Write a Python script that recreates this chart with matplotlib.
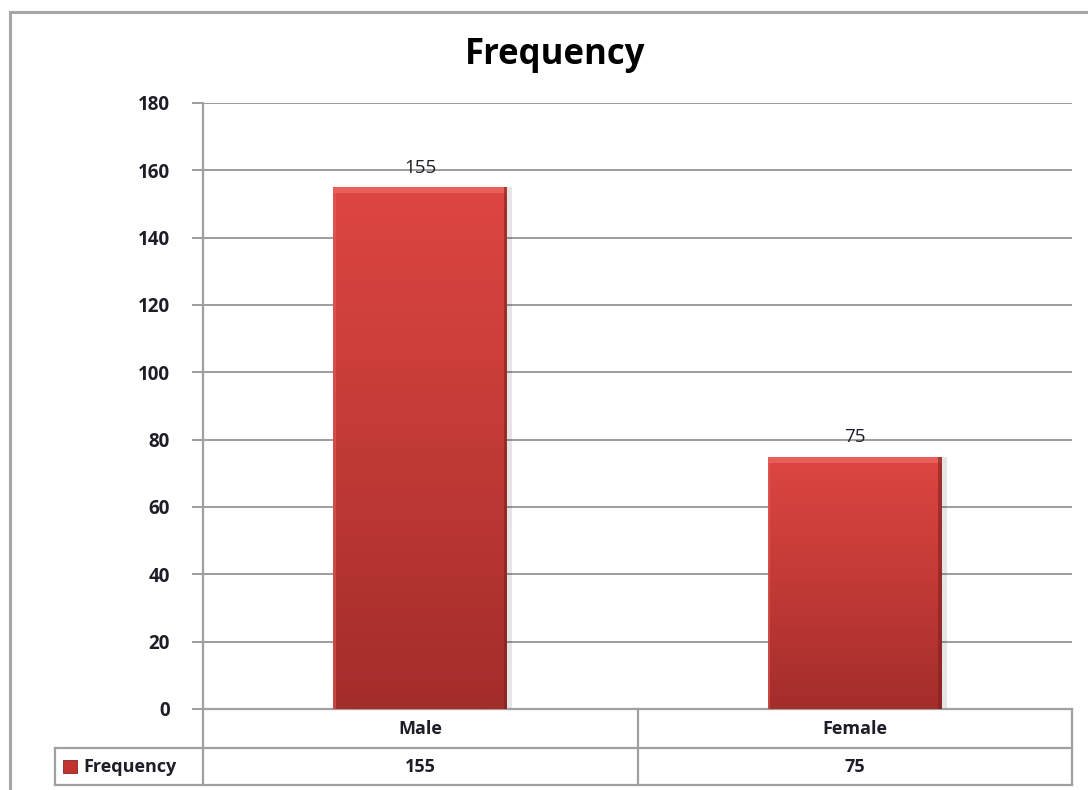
import numpy as np
import matplotlib
matplotlib.use("Agg")
import matplotlib.pyplot as plt
from matplotlib.colors import LinearSegmentedColormap
from matplotlib.patches import Rectangle

categories = ["Male", "Female"]
values = [155, 75]
series_name = "Frequency"
yticks = [0, 20, 40, 60, 80, 100, 120, 140, 160, 180]

plt.rcParams["font.family"] = ["Open Sans", "DejaVu Sans"]
text_color = "#1e1e28"
grid_color = "#8c8c8c"

fig = plt.figure(figsize=(10.88, 7.90), dpi=100)
fig.patch.set_facecolor("white")

# outer chart frame
fig.add_artist(Rectangle((10 / 1088, -0.05), 1.2, 1 - 12 / 790 + 0.05,
                         transform=fig.transFigure, fill=False,
                         edgecolor="#a6a6a6", lw=2.2))

ax = fig.add_axes([203 / 1088, 1 - 709 / 790, 869 / 1088, 606 / 790])
ax.set_xlim(-0.5, len(categories) - 0.5)
ax.set_ylim(0, 180)
for s in ax.spines.values():
    s.set_visible(False)

ax.set_yticks(yticks)
ax.set_yticklabels([str(t) for t in yticks], fontsize=13.5, fontweight="bold",
                   color=text_color)
ax.tick_params(axis="y", length=8, width=1.2, color=grid_color, pad=16)
ax.set_xticks([])
ax.yaxis.grid(True, color=grid_color, lw=1.2)
ax.set_axisbelow(True)

# bars with a vertical red gradient
cmap = LinearSegmentedColormap.from_list("redgrad", ["#a32d2b", "#c23a36", "#dd4642"])
bar_w = 0.4
grad = np.linspace(0, 1, 256).reshape(-1, 1)
for i, v in enumerate(values):
    x0 = i - bar_w / 2
    # soft shadow on the right
    ax.add_patch(Rectangle((x0 + 0.012, 0), bar_w, v, facecolor="#000000",
                           alpha=0.10, lw=0, zorder=2))
    im = ax.imshow(grad, cmap=cmap, origin="lower", aspect="auto",
                   extent=[x0, x0 + bar_w, 0, v], zorder=3)
    clip = Rectangle((x0, 0), bar_w, v, transform=ax.transData, facecolor="none")
    im.set_clip_path(clip)
    # bevel highlights
    ax.add_patch(Rectangle((x0, v - 1.8), bar_w, 1.8, facecolor="#ee6a64",
                           lw=0, zorder=4, alpha=0.7))
    ax.add_patch(Rectangle((x0 + bar_w - 0.008, 0), 0.008, v, facecolor="#7e2220",
                           lw=0, zorder=4, alpha=0.6))
    ax.add_patch(Rectangle((x0, 0), 0.005, v, facecolor="#e8605a",
                           lw=0, zorder=4, alpha=0.5))
    ax.text(i, v + 3, str(v), ha="center", va="bottom", fontsize=13.5,
            color=text_color, zorder=5)

ax.set_xlim(-0.5, len(categories) - 0.5)
ax.set_ylim(0, 180)

fig.suptitle(series_name, x=555 / 1088, y=1 - 55 / 790, va="center",
             fontsize=25, fontweight="bold", color="#000000")

# data table beneath the plot
r1 = -39 / 606
r2 = -76 / 606
legend_left = -148 / 869
lk = dict(color="#a0a0a0", lw=1.6, clip_on=False, transform=ax.transAxes)
ax.plot([0, 0], [1, r2], **lk)
ax.plot([1, 1], [0, r2], **lk)
ax.plot([0.5, 0.5], [0, r2], **lk)
ax.plot([0, 1], [0, 0], **lk)
ax.plot([legend_left, 1], [r1, r1], **lk)
ax.plot([legend_left, 1], [r2, r2], **lk)
ax.plot([legend_left, legend_left], [r1, r2], **lk)

for i, (c, v) in enumerate(zip(categories, values)):
    xc = (i + 0.5) / len(categories)
    ax.text(xc, r1 / 2, c, transform=ax.transAxes, ha="center", va="center",
            fontsize=13, fontweight="bold", color=text_color)
    ax.text(xc, (r1 + r2) / 2, str(v), transform=ax.transAxes, ha="center",
            va="center", fontsize=13, fontweight="bold", color=text_color)

# legend key inside the table
key_w = 14 / 869
key_h = 13 / 606
ym = (r1 + r2) / 2
ax.add_patch(Rectangle((legend_left + 8 / 869, ym - key_h / 2), key_w, key_h,
                       transform=ax.transAxes, facecolor="#c0332f",
                       edgecolor="#8a2422", lw=0.6, clip_on=False))
ax.text(legend_left + 28 / 869, ym, series_name, transform=ax.transAxes,
        ha="left", va="center", fontsize=13, fontweight="bold", color=text_color)

fig.savefig("out.png", dpi=100, facecolor="white")
